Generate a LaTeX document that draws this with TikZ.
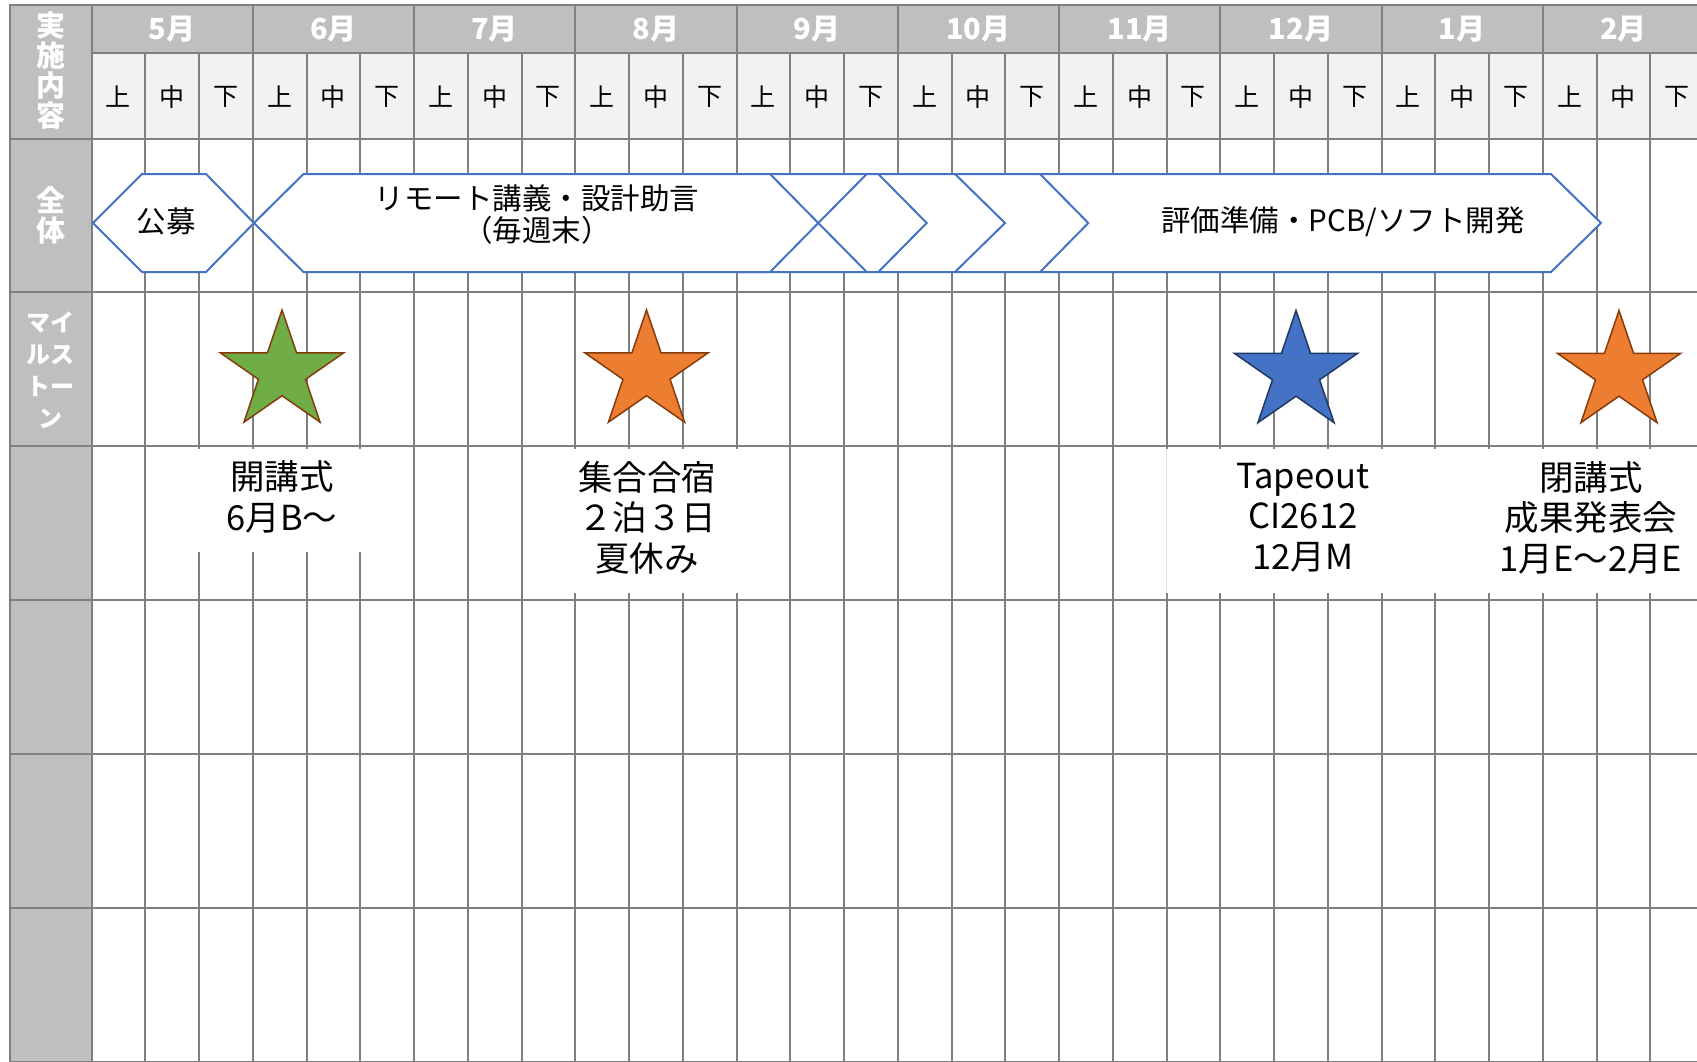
\documentclass[tikz,border=0pt]{standalone}
\usepackage{fontspec}
\setmainfont{Noto Sans CJK JP}
\definecolor{hdr}{HTML}{BFBFBF}
\definecolor{subc}{HTML}{F2F2F2}
\definecolor{gridc}{HTML}{808080}
\definecolor{bandc}{HTML}{4472C4}
\definecolor{sgreen}{HTML}{70AD47}
\definecolor{sorange}{HTML}{ED7D31}
\definecolor{sblue}{HTML}{4472C4}
\definecolor{sbrown}{HTML}{843C0C}
\definecolor{snavy}{HTML}{1F3864}
\tikzset{
  gridline/.style={draw=gridc, line width=2pt},
  bandshape/.style={draw=bandc, line width=2pt, fill=white, line join=miter},
  bandmark/.style={draw=bandc, line width=2pt},
  monthlbl/.style={text=white, font=\fontsize{29}{32}\selectfont\bfseries, inner sep=0pt},
  sublbl/.style={font=\fontsize{25}{28}\selectfont, inner sep=0pt},
  sidelbl/.style={text=white, align=center, inner sep=0pt},
  bandtxt/.style={font=\fontsize{29.5}{32}\selectfont, align=center, inner sep=0pt},
  lbltxt/.style={font=\fontsize{34.5}{40.5}\selectfont, align=center, inner sep=0pt},
  labelbox/.style={fill=white},
  mstar/.pic={\path[pic actions] (-90:62) -- (-54:23.7) -- (-18:62) -- (18:23.7) -- (54:62) -- (90:23.7) -- (126:62) -- (162:23.7) -- (198:62) -- (234:23.7) -- cycle;},
  starline/.style={line width=1.5pt, line join=miter, xscale=1.045}
}
\begin{document}
\begin{tikzpicture}[x=1pt,y=-1pt]
\useasboundingbox (0,0) rectangle (1697,1061);
\clip (0,0) rectangle (1697,1061);
\fill[white] (0,0) rectangle (1697,1061);
% background fills
\fill[hdr] (10,5) rectangle (1720,53);
\fill[subc] (91.5,53) rectangle (1720,138.5);
\fill[hdr] (10,5) rectangle (91.5,1080);
% grid
\foreach \k in {1,...,30} \draw[gridline] ({91.5+53.75*\k},53) -- ({91.5+53.75*\k},1080);
\foreach \m in {1,...,10} \draw[gridline] ({91.5+161.25*\m},5) -- ({91.5+161.25*\m},53);
\foreach \r in {0,...,6} \draw[gridline] (10,{138.5+153.9*\r}) -- (1720,{138.5+153.9*\r});
\draw[gridline] (91.5,53) -- (1720,53);
\draw[gridline] (9,5) -- (1720,5);
\draw[gridline] (10,4) -- (10,1080);
\draw[gridline] (91.5,5) -- (91.5,1080);
% header texts
\foreach [count=\i from 0] \mname in {5月,6月,7月,8月,9月,10月,11月,12月,1月,2月}
  \node[monthlbl] (m\i) at ({91.5+53.75*(3*\i+1.5)},29) {\mname};
\foreach \m in {0,...,9}
  \foreach [count=\j from 0] \s in {上,中,下}
    \node[sublbl] (s\m-\j) at ({91.5+53.75*(3*\m+\j+0.5)},96.5) {\s};
\node[sidelbl, font=\fontsize{29}{30}\selectfont\bfseries] (hd) at (50.5,71) {実\\施\\内\\容};
\node[sidelbl, font=\fontsize{29}{30}\selectfont\bfseries] (all) at (50.5,215) {全\\体};
\node[sidelbl, font=\fontsize{24}{32}\selectfont\bfseries] (ms) at (50.5,370) {マイ\\ルス\\トー\\ン};
% band shapes
\draw[bandshape] (740,174) -- (1551,174) -- (1601,223) -- (1551,272) -- (740,272) -- cycle;
\draw[bandmark] (866.7,174) -- (818.3,223) -- (866.7,272);
\draw[bandmark] (878.3,174) -- (926.7,223) -- (878.3,272);
\draw[bandmark] (955,174) -- (1005,223) -- (955,272);
\draw[bandmark] (1040,174) -- (1088.3,223) -- (1040,272);
\draw[bandshape] (254,223) -- (303.5,174) -- (770,174) -- (818.3,223) -- (770,272) -- (303.5,272) -- cycle;
\draw[bandshape] (93,223) -- (142,174) -- (206,174) -- (254,223) -- (206,272) -- (142,272) -- cycle;
\node[bandtxt] (t1) at (166,221) {公募};
\node[bandtxt] (t2) at (537,214) {リモート講義・設計助言\\（毎週末）};
\node[bandtxt] (t3) at (1343,222) {評価準備・PCB/ソフト開発};
% stars
\pic[starline, fill=sgreen, draw=sbrown] at (282,372) {mstar};
\pic[starline, fill=sorange, draw=sbrown] at (646.5,372) {mstar};
\pic[starline, fill=sblue, draw=snavy] at (1296,372.5) {mstar};
\pic[starline, fill=sorange, draw=sbrown] at (1619,372.5) {mstar};
% label boxes
\fill[labelbox] (150,449) rectangle (405,552);
\fill[labelbox] (530,449) rectangle (782,593);
\fill[labelbox] (1165.5,449) rectangle (1720,593);
\draw[draw=gray!20, line width=0.8pt] (1166,449) -- (1166,593);
\node[lbltxt] (l1) at (282,497) {開講式\\6月B〜};
\node[lbltxt] (l2) at (647,517.5) {集合合宿\\２泊３日\\夏休み};
\node[lbltxt] (l3) at (1303,517.5) {Tapeout\\CI2612\\12月M};
\node[lbltxt] (l4) at (1591,517.5) {閉講式\\成果発表会\\1月E〜2月E};
\end{tikzpicture}
\end{document}
